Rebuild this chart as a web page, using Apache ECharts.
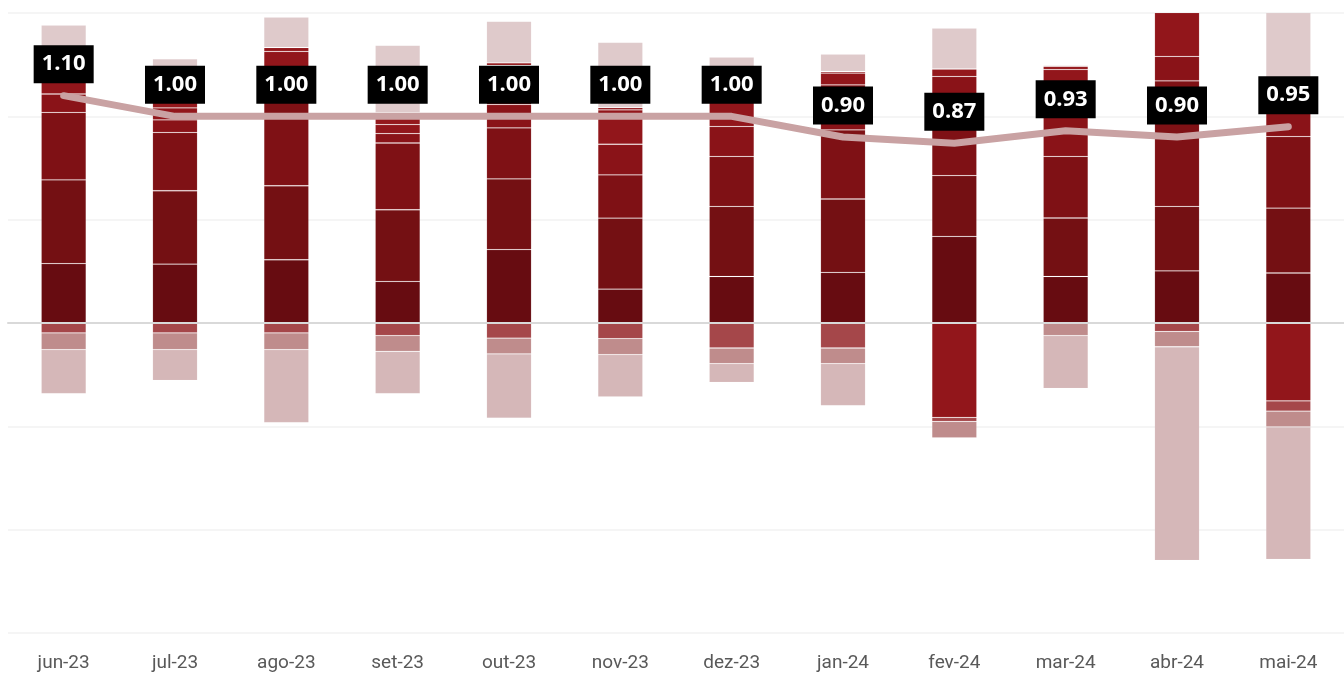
<!DOCTYPE html>
<html>
<head>
<meta charset="utf-8">
<script src="https://cdn.jsdelivr.net/npm/echarts@6/dist/echarts.min.js"></script>
<style>
  html, body { margin: 0; padding: 0; background: #ffffff; }
  #chart { width: 1344px; height: 677px; }
</style>
</head>
<body>
<div id="chart"></div>
<script>
// Months on the category axis
const months = ['jun-23', 'jul-23', 'ago-23', 'set-23', 'out-23', 'nov-23', 'dez-23', 'jan-24', 'fev-24', 'mar-24', 'abr-24', 'mai-24'];

// Net total per month (line)
const netTotal = [1.10, 1.00, 1.00, 1.00, 1.00, 1.00, 1.00, 0.90, 0.87, 0.93, 0.90, 0.95];

// Stacked components (positive stack from the bottom up, negatives downward from zero)
const compA = [0.287, 0.285, 0.306, 0.201, 0.355, 0.164, 0.225, 0.245, 0.419, 0.225, 0.252, 0.242];
const compB = [0.406, 0.355, 0.358, 0.347, 0.342, 0.343, 0.339, 0.355, 0.294, 0.283, 0.312, 0.314];
const compC = [0.326, 0.282, 0.440, 0.323, 0.247, 0.210, 0.242, 0.334, 0.295, 0.298, 0.608, 0.346];
const compD = [0.089, 0.061, 0.097, 0.045, 0.113, 0.148, 0.145, 0.218, 0.185, 0.226, 0.118, 0.200];
const compE = [0.120, 0.058, 0.113, 0.044, 0.189, 0.166, 0.168, 0.057, -0.457, 0.194, 0.450, -0.377];
const compF = [0.000, 0.040, 0.019, 0.058, 0.013, 0.011, 0.000, 0.008, 0.036, 0.016, 0.000, 0.000];
const compG = [0.214, 0.197, 0.147, 0.326, 0.201, 0.316, 0.168, 0.084, 0.198, 0.005, 0.310, 0.992];
const compH = [-0.048, -0.048, -0.048, -0.061, -0.073, -0.076, -0.121, -0.121, -0.019, 0.000, -0.041, -0.049];
const compI = [-0.081, -0.081, -0.081, -0.076, -0.076, -0.077, -0.076, -0.076, -0.080, -0.061, -0.074, -0.077];
const compJ = [-0.213, -0.149, -0.353, -0.205, -0.311, -0.205, -0.090, -0.203, 0.000, -0.256, -1.034, -0.641];

const components = [
  { name: 'A', data: compA, color: '#670c11' },
  { name: 'B', data: compB, color: '#741013' },
  { name: 'C', data: compC, color: '#7f1115' },
  { name: 'D', data: compD, color: '#8a1318' },
  { name: 'E', data: compE, color: '#92161b' },
  { name: 'F', data: compF, color: '#94181c' },
  { name: 'G', data: compG, color: '#dfcacb' },
  { name: 'H', data: compH, color: '#a5474a' },
  { name: 'I', data: compI, color: '#bf8c8c' },
  { name: 'J', data: compJ, color: '#d5b7b8' }
];

const chart = echarts.init(document.getElementById('chart'), null, { renderer: 'canvas' });

const barSeries = components.map(c => ({
  name: c.name,
  type: 'bar',
  stack: 'total',
  barWidth: 45,
  data: c.data,
  clip: true,
  itemStyle: { color: c.color, borderColor: 'rgba(255,255,255,0.12)', borderWidth: 0.8 },
  emphasis: { disabled: true },
  z: 2
}));

const option = {
  animation: false,
  backgroundColor: '#ffffff',
  grid: { left: 8, right: 0, top: 13, bottom: 44, containLabel: false },
  xAxis: {
    type: 'category',
    data: months,
    axisLine: { show: true, onZero: true, lineStyle: { color: '#d9d9d9', width: 2 } },
    axisTick: { show: false },
    axisLabel: { color: '#595959', fontFamily: 'Roboto', fontSize: 19, margin: 21 },
    z: 3
  },
  yAxis: {
    type: 'value',
    min: -1.5,
    max: 1.5,
    interval: 0.5,
    axisLine: { show: false },
    axisTick: { show: false },
    axisLabel: { show: false },
    splitLine: { show: true, lineStyle: { color: '#f2f2f2', width: 1.5 } }
  },
  series: [
    ...barSeries,
    {
      name: 'Total',
      type: 'line',
      data: netTotal,
      showSymbol: true,
      symbol: 'circle',
      symbolSize: 1,
      itemStyle: { color: 'rgba(0,0,0,0)' },
      smooth: false,
      lineStyle: { color: '#c9a2a3', width: 7, cap: 'round', join: 'round' },
      label: {
        show: true,
        position: 'top',
        distance: 12,
        formatter: p => p.value.toFixed(2),
        backgroundColor: '#000000',
        color: '#ffffff',
        fontFamily: 'Open Sans',
        fontWeight: 'bold',
        fontSize: 22,
        lineHeight: 22,
        padding: [8, 8, 8, 8]
      },
      labelLayout: { hideOverlap: false },
      emphasis: { disabled: true },
      z: 10
    }
  ]
};

chart.setOption(option);
</script>
</body>
</html>
